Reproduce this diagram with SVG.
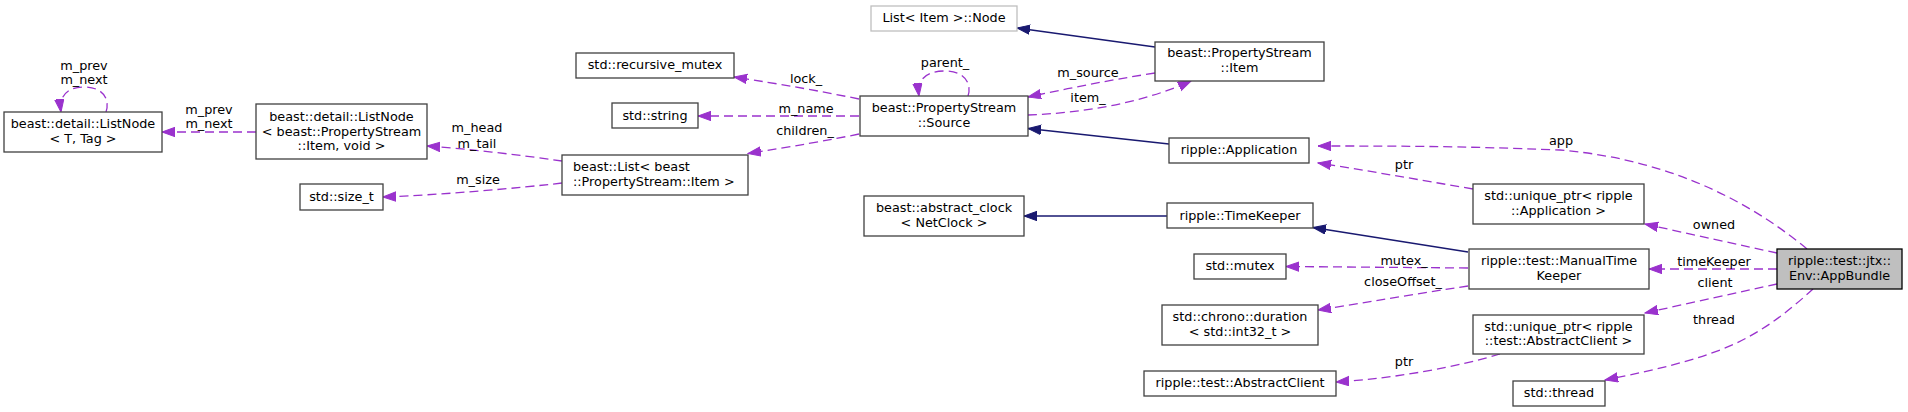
<svg xmlns="http://www.w3.org/2000/svg" width="1908" height="412" viewBox="0 0 1908 412">
<style>
  .box { fill: #ffffff; stroke: #404040; stroke-width: 1.3; }
  .gray { fill: #ffffff; stroke: #bfbfbf; stroke-width: 1.3; }
  .hl { fill: #bfbfbf; stroke: #000000; stroke-width: 1.3; }
  text { font-family: "DejaVu Sans", "Liberation Sans", sans-serif; font-size: 12.8px; fill: #000000; }
  .c { text-anchor: middle; }
  .l { text-anchor: start; }
  .dash { fill: none; stroke: #9a32cd; stroke-width: 1.3; stroke-dasharray: 9,5; marker-end: url(#ad); }
  .solid { fill: none; stroke: #191970; stroke-width: 1.3; marker-end: url(#as); }
</style>
<defs>
  <marker id="ad" markerWidth="14" markerHeight="11" refX="13" refY="5" orient="auto" markerUnits="userSpaceOnUse">
    <path d="M0,0.3 L13,5 L0,9.7 z" fill="#9a32cd" stroke="#9a32cd" stroke-width="1"/>
  </marker>
  <marker id="as" markerWidth="14" markerHeight="11" refX="13" refY="5" orient="auto" markerUnits="userSpaceOnUse">
    <path d="M0,0.3 L13,5 L0,9.7 z" fill="#191970" stroke="#191970" stroke-width="1"/>
  </marker>
</defs>
<rect width="1908" height="412" fill="#ffffff"/>

<g id="edges">
  <path class="dash" d="M106,112 C110,100 104,87 84,87 C66,87 59,97 61,112"/>
  <path class="dash" d="M256,132 L162,132"/>
  <path class="dash" d="M562,161 C520,155 470,149 427,146"/>
  <path class="dash" d="M562,183 C520,188 440,195 383,197"/>
  <path class="dash" d="M859,99 C820,91 780,84 734,77"/>
  <path class="dash" d="M859,116 L698,116"/>
  <path class="dash" d="M859,134 C830,140 790,147 748,153.5"/>
  <path class="dash" d="M968,96 C972,84 965,71 945,71 C925,71 917,80 919,96"/>
  <path class="solid" d="M1155,47 L1017,28"/>
  <path class="dash" d="M1155,73 C1110,80 1070,88 1028,97"/>
  <path class="dash" d="M1028,115 C1080,113 1140,104 1191,81"/>
  <path class="solid" d="M1169,144 L1028,128.5"/>
  <path class="solid" d="M1167,216 L1024,216"/>
  <path class="solid" d="M1468,252 L1313,227.5"/>
  <path class="dash" d="M1473,189 C1420,180 1370,171 1318,163"/>
  <path class="dash" d="M1807,249 C1760,210 1680,160 1560,150 C1460,146 1390,146 1318,146"/>
  <path class="dash" d="M1777,253 C1740,245 1690,234 1645,224"/>
  <path class="dash" d="M1777,269 L1649,269"/>
  <path class="dash" d="M1777,284 C1740,292 1690,303 1645,313"/>
  <path class="dash" d="M1813,289 C1790,310 1760,335 1720,350 C1680,365 1640,373 1605,380"/>
  <path class="dash" d="M1468,268 L1286,266.5"/>
  <path class="dash" d="M1468,286 C1420,293 1370,302 1318,310"/>
  <path class="dash" d="M1500,354 C1460,366 1400,378 1336,382"/>
  <text class="c" x="84" y="69.5">m_prev</text>
  <text class="c" x="84" y="83.5">m_next</text>
  <text class="c" x="209" y="113.5">m_prev</text>
  <text class="c" x="209" y="127.5">m_next</text>
  <text class="c" x="477" y="131.5">m_head</text>
  <text class="c" x="477" y="147.5">m_tail</text>
  <text class="c" x="478" y="183.5">m_size</text>
  <text class="c" x="806" y="82.5">lock_</text>
  <text class="c" x="806" y="112.5">m_name</text>
  <text class="c" x="805" y="134.5">children_</text>
  <text class="c" x="945" y="67">parent_</text>
  <text class="c" x="1088" y="76.5">m_source</text>
  <text class="c" x="1088" y="101.5">item_</text>
  <text class="c" x="1404" y="168.5">ptr</text>
  <text class="c" x="1561" y="144.5">app</text>
  <text class="c" x="1714" y="228.5">owned</text>
  <text class="c" x="1714" y="265.5">timeKeeper</text>
  <text class="c" x="1715" y="286.5">client</text>
  <text class="c" x="1714" y="323.5">thread</text>
  <text class="c" x="1404" y="264.5">mutex_</text>
  <text class="c" x="1403" y="285.5">closeOffset_</text>
  <text class="c" x="1404" y="365.5">ptr</text>
</g>

<g id="n_listnode_t">
  <rect class="box" x="4" y="112" width="158" height="40"/>
  <text class="c" x="83" y="128">beast::detail::ListNode</text>
  <text class="c" x="83" y="143">&lt; T, Tag &gt;</text>
</g>
<g id="n_listnode_item">
  <rect class="box" x="256" y="104" width="171" height="55"/>
  <text class="c" x="341.5" y="121">beast::detail::ListNode</text>
  <text class="c" x="341.5" y="135.5">&lt; beast::PropertyStream</text>
  <text class="c" x="341.5" y="150">::Item, void &gt;</text>
</g>
<g id="n_size_t">
  <rect class="box" x="300" y="184" width="83" height="26"/>
  <text class="c" x="341.5" y="201">std::size_t</text>
</g>
<g id="n_list">
  <rect class="box" x="562" y="155" width="186" height="40"/>
  <text class="l" x="573" y="171">beast::List&lt; beast</text>
  <text class="l" x="573" y="185.5">::PropertyStream::Item &gt;</text>
</g>
<g id="n_recursive_mutex">
  <rect class="box" x="576" y="53" width="158" height="25"/>
  <text class="c" x="655" y="69">std::recursive_mutex</text>
</g>
<g id="n_string">
  <rect class="box" x="612" y="103" width="86" height="25"/>
  <text class="c" x="655" y="120">std::string</text>
</g>
<g id="n_source">
  <rect class="box" x="860" y="96" width="168" height="40"/>
  <text class="c" x="944" y="112">beast::PropertyStream</text>
  <text class="c" x="944" y="127">::Source</text>
</g>
<g id="n_list_node">
  <rect class="gray" x="871" y="6" width="146" height="25"/>
  <text class="c" x="944" y="22">List&lt; Item &gt;::Node</text>
</g>
<g id="n_item">
  <rect class="box" x="1155" y="42" width="169" height="39"/>
  <text class="c" x="1239.5" y="57">beast::PropertyStream</text>
  <text class="c" x="1239.5" y="72">::Item</text>
</g>
<g id="n_abstract_clock">
  <rect class="box" x="864" y="196" width="160" height="40"/>
  <text class="c" x="944" y="212">beast::abstract_clock</text>
  <text class="c" x="944" y="226.5">&lt; NetClock &gt;</text>
</g>
<g id="n_application">
  <rect class="box" x="1169" y="138" width="140" height="25"/>
  <text class="c" x="1239" y="154">ripple::Application</text>
</g>
<g id="n_timekeeper">
  <rect class="box" x="1167" y="203" width="146" height="25"/>
  <text class="c" x="1240" y="219.5">ripple::TimeKeeper</text>
</g>
<g id="n_uptr_app">
  <rect class="box" x="1473" y="184" width="171" height="40"/>
  <text class="c" x="1558.5" y="200">std::unique_ptr&lt; ripple</text>
  <text class="c" x="1558.5" y="214.5">::Application &gt;</text>
</g>
<g id="n_mutex">
  <rect class="box" x="1194" y="254" width="92" height="25"/>
  <text class="c" x="1240" y="270">std::mutex</text>
</g>
<g id="n_mtk">
  <rect class="box" x="1469" y="249" width="180" height="40"/>
  <text class="c" x="1559" y="265">ripple::test::ManualTime</text>
  <text class="c" x="1559" y="280">Keeper</text>
</g>
<g id="n_appbundle">
  <rect class="hl" x="1777" y="249" width="125" height="40"/>
  <text class="c" x="1839.5" y="265">ripple::test::jtx::</text>
  <text class="c" x="1839.5" y="280">Env::AppBundle</text>
</g>
<g id="n_duration">
  <rect class="box" x="1162" y="305" width="156" height="40"/>
  <text class="c" x="1240" y="321">std::chrono::duration</text>
  <text class="c" x="1240" y="335.5">&lt; std::int32_t &gt;</text>
</g>
<g id="n_uptr_ac">
  <rect class="box" x="1473" y="315" width="171" height="39"/>
  <text class="c" x="1558.5" y="331">std::unique_ptr&lt; ripple</text>
  <text class="c" x="1558.5" y="345">::test::AbstractClient &gt;</text>
</g>
<g id="n_abstract_client">
  <rect class="box" x="1144" y="371" width="192" height="25"/>
  <text class="c" x="1240" y="387">ripple::test::AbstractClient</text>
</g>
<g id="n_thread">
  <rect class="box" x="1513" y="381" width="92" height="25"/>
  <text class="c" x="1559" y="397">std::thread</text>
</g>
</svg>
